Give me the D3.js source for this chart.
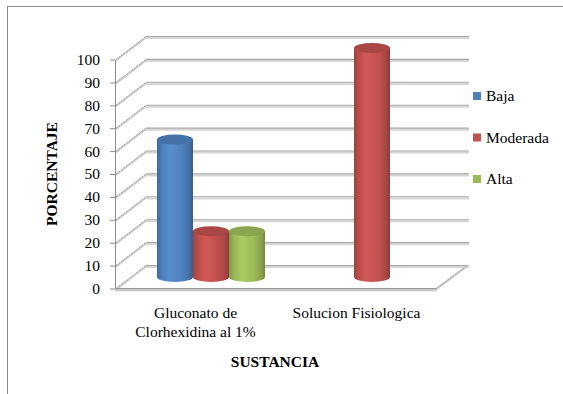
<!DOCTYPE html>
<html>
<head>
<meta charset="utf-8">
<script src="https://cdn.jsdelivr.net/npm/d3@7"></script>
<style>
  html, body { margin: 0; padding: 0; background: #fff; }
  svg { display: block; }
  text { font-family: "Liberation Serif", "Times New Roman", serif; fill: #000; }
</style>
</head>
<body>
<svg id="chart" width="563" height="394"></svg>
<script>
// Chart data
const categories = ["Gluconato de\nClorhexidina al 1%", "Solucion Fisiologica"];
const series = ["Baja", "Moderada", "Alta"];
const baja = [60, 0];
const moderada = [20, 100];
const alta = [20, 0];
const yTicks = [0, 10, 20, 30, 40, 50, 60, 70, 80, 90, 100];
const seriesColors = ["#4F81BD", "#C0504D", "#9BBB59"];

const values = [baja, moderada, alta];

const svg = d3.select("#chart");
const W = 563, H = 394;

// Outer frame (runs off the right and bottom edges)
svg.append("rect").attr("x", 7.5).attr("y", 6.5).attr("width", W).attr("height", H)
  .attr("fill", "#fff").attr("stroke", "#8a8a8a").attr("stroke-width", 1);

// Plot geometry: front plane and depth offset of the 3D box
const frontLeft = 115, frontRight = 437;
const depthX = 31, depthY = -23;

const y = d3.scaleLinear().domain([0, 100]).range([288.5, 59.5]);
const x = d3.scaleBand().domain(d3.range(categories.length)).range([frontLeft, frontRight]).padding(0);
const inner = d3.scaleBand().domain(series).range([-54, 54]).padding(0);

const g = svg.append("g");

// Back wall gridlines with a soft shadow
const grid = g.append("g");
yTicks.forEach(v => {
  const yy = y(v) + depthY;
  grid.append("line").attr("x1", frontLeft + depthX).attr("x2", frontRight + depthX + 1)
    .attr("y1", yy + 1.6).attr("y2", yy + 1.6).attr("stroke", "#d6d6d6").attr("stroke-width", 2);
  grid.append("line").attr("x1", frontLeft + depthX).attr("x2", frontRight + depthX + 1)
    .attr("y1", yy).attr("y2", yy).attr("stroke", "#a6a6a6").attr("stroke-width", 1.1);
  // side wall diagonals
  grid.append("line").attr("x1", frontLeft + 1).attr("y1", y(v) + 1)
    .attr("x2", frontLeft + depthX).attr("y2", yy + 1)
    .attr("stroke", "#d0d0d0").attr("stroke-width", 2);
  grid.append("line").attr("x1", frontLeft + 1).attr("y1", y(v))
    .attr("x2", frontLeft + depthX).attr("y2", yy)
    .attr("stroke", "#9a9a9a").attr("stroke-width", 1).attr("stroke-dasharray", "2,1.2");
});

// Floor: right diagonal and front edge
g.append("line").attr("x1", frontRight).attr("y1", y(0)).attr("x2", frontRight + depthX).attr("y2", y(0) + depthY)
  .attr("stroke", "#d0d0d0").attr("stroke-width", 2.2);
g.append("line").attr("x1", frontRight).attr("y1", y(0) - 0.5).attr("x2", frontRight + depthX).attr("y2", y(0) + depthY - 0.5)
  .attr("stroke", "#a0a0a0").attr("stroke-width", 1).attr("stroke-dasharray", "2,1.2");
g.append("line").attr("x1", frontLeft).attr("x2", frontRight).attr("y1", y(0) + 1.5).attr("y2", y(0) + 1.5)
  .attr("stroke", "#c8c8c8").attr("stroke-width", 2.5);
g.append("line").attr("x1", frontLeft).attr("x2", frontRight).attr("y1", y(0)).attr("y2", y(0))
  .attr("stroke", "#9a9a9a").attr("stroke-width", 1.2);

// Value axis
const axis = d3.axisLeft(y).tickValues(yTicks).tickSize(5).tickSizeOuter(0).tickPadding(10);
const ax = g.append("g").attr("transform", `translate(${frontLeft},0)`).call(axis);
ax.select(".domain").attr("stroke", "#8c8c8c");
ax.selectAll(".tick line").attr("stroke", "#8c8c8c");
ax.selectAll(".tick text").attr("font-size", 15.5).attr("font-family", "Liberation Serif").attr("fill", "#000");

// Gradients for the cylinders
const defs = svg.append("defs");
seriesColors.forEach((c, i) => {
  const base = d3.color(c);
  const grad = defs.append("linearGradient").attr("id", "cyl" + i).attr("x1", "0").attr("x2", "1").attr("y1", "0").attr("y2", "0");
  grad.append("stop").attr("offset", "0").attr("stop-color", base.darker(0.6));
  grad.append("stop").attr("offset", "0.12").attr("stop-color", base.darker(0.1));
  grad.append("stop").attr("offset", "0.35").attr("stop-color", base.brighter(0.25));
  grad.append("stop").attr("offset", "0.7").attr("stop-color", base);
  grad.append("stop").attr("offset", "0.9").attr("stop-color", base.darker(0.4));
  grad.append("stop").attr("offset", "1").attr("stop-color", base.darker(0.9));
});
defs.append("filter").attr("id", "soft").attr("x", "-20%").attr("y", "-5%").attr("width", "140%").attr("height", "110%")
  .append("feGaussianBlur").attr("stdDeviation", 0.5);

// Cylinders, placed at mid depth
const rx = 18, ry = 5;
const midX = depthX / 2, midY = depthY / 2;
const bars = [];
categories.forEach((cat, ci) => {
  series.forEach((s, si) => {
    const v = values[si][ci];
    if (v > 0) bars.push({ ci, si, v });
  });
});
const barG = g.append("g");
bars.forEach(b => {
  const cx = x(b.ci) + x.bandwidth() / 2 + midX + inner(series[b.si]) + inner.bandwidth() / 2;
  const yb = y(0) + midY;
  const yt = y(b.v) + midY;
  const body = `M${cx - rx},${yt} L${cx - rx},${yb} A${rx},${ry} 0 0 0 ${cx + rx},${yb} L${cx + rx},${yt} Z`;
  const bg = barG.append("g").attr("filter", "url(#soft)");
  bg.append("path").attr("d", body).attr("fill", `url(#cyl${b.si})`);
  bg.append("ellipse").attr("cx", cx).attr("cy", yt).attr("rx", rx).attr("ry", ry)
    .attr("fill", d3.color(seriesColors[b.si]).darker(0.35));
});

// Category labels
categories.forEach((cat, ci) => {
  const lines = cat.split("\n");
  const t = g.append("text").attr("x", x(ci) + x.bandwidth() / 2).attr("y", 318)
    .attr("text-anchor", "middle").attr("font-size", 15.5);
  lines.forEach((ln, li) => {
    t.append("tspan").attr("x", x(ci) + x.bandwidth() / 2).attr("dy", li === 0 ? 0 : 19).text(ln);
  });
});

// Axis titles
svg.append("text").attr("x", 275).attr("y", 367).attr("text-anchor", "middle")
  .attr("font-size", 15.5).attr("font-weight", "bold").text("SUSTANCIA");
svg.append("text").attr("transform", "translate(57,174) rotate(-90)").attr("text-anchor", "middle")
  .attr("font-size", 15.5).attr("font-weight", "bold").text("PORCENTAJE");

// Legend
const legend = svg.append("g");
series.forEach((s, i) => {
  const ly = 96 + i * 41.5;
  legend.append("rect").attr("x", 473).attr("y", ly - 4).attr("width", 8).attr("height", 8).attr("fill", seriesColors[i]);
  legend.append("text").attr("x", 486).attr("y", ly + 5).attr("font-size", 15.5).text(s);
});
</script>
</body>
</html>
